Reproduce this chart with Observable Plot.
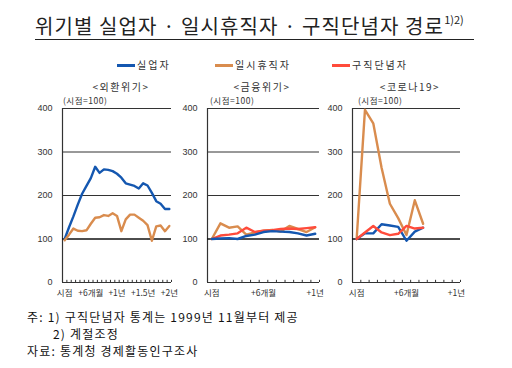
<!DOCTYPE html>
<html><head><meta charset="utf-8">
<script src="https://cdn.jsdelivr.net/npm/d3@7"></script>
<script src="https://cdn.jsdelivr.net/npm/@observablehq/plot@0.6"></script>
<style>
html,body{margin:0;padding:0;background:#fff;}
#wrap{position:relative;width:512px;height:368px;overflow:hidden;font-family:"Noto Sans CJK KR","Noto Sans",sans-serif;color:#222;}
.abs{position:absolute;white-space:nowrap;}
#title{left:35px;top:14px;width:439px;font-size:20px;line-height:24px;border-bottom:1.3px solid #222;padding-bottom:1px;letter-spacing:1.1px;}
#title sup{font-size:11px;vertical-align:top;line-height:12px;position:relative;top:-1px;letter-spacing:0;}
.leg{top:58px;font-size:10px;letter-spacing:2px;color:#333;line-height:14px;}
.leg span.sw{display:inline-block;width:18px;height:3px;vertical-align:middle;margin-right:2px;position:relative;top:-1px;}
.ptitle{top:80px;font-size:10px;letter-spacing:1.5px;color:#333;transform:translateX(-50%);line-height:14px;}
.base{top:95px;font-size:8.5px;letter-spacing:0.5px;color:#333;line-height:11px;}
.plot{position:absolute;top:80px;}
.note{left:27px;font-size:12px;line-height:15px;letter-spacing:1.2px;color:#111;}
</style></head>
<body><div id="wrap"></div>
<script>
// ---- data ----
const seriesNames = ["실업자", "일시휴직자", "구직단념자"];
const seriesColors = ["#1457b0", "#d98c4e", "#ff4b3b"];
const crisisTitles = ["<외환위기>", "<금융위기>", "<코로나19>"];
const baseNote = "(시점=100)";
const yTicks = [0, 100, 200, 300, 400];

// 외환위기 (25 months)
const unemp1 = [100,127,152,179,204,222,240,266,252,260,259,256,250,241,228,225,222,216,228,223,206,187,181,169,169];
const temp1  = [97,110,124,119,118,120,135,149,150,155,153,159,153,118,145,156,156,149,142,132,96,129,131,118,130];
const xLabels1 = ["시점","+6개월","+1년","+1.5년","+2년"];
const xLabelPos1 = [0,6,12,18,24];
const nMonths1 = 25;

// 금융위기 (13 months)
const unemp2 = [100,101,102,100,107,110,116,118,117,116,113,108,112];
const temp2  = [100,136,126,129,110,115,119,121,117,130,123,116,127];
const disc2  = [100,108,110,113,126,116,119,120,123,124,123,125,127];
const xLabels2 = ["시점","+6개월","+1년"];
const xLabelPos2 = [0,6,12];
const nMonths2 = 13;

// 코로나19 (9 months observed, axis of 13)
const unemp3 = [100,113,113,134,131,128,96,117,126];
const temp3  = [100,397,366,264,181,148,109,189,135];
const disc3  = [100,115,130,115,109,112,130,124,126];
const xLabels3 = ["시점","+6개월","+1년"];
const xLabelPos3 = [0,6,12];
const nMonths3 = 13;

const notes = ["주: 1) 구직단념자 통계는 1999년 11월부터 제공", "2) 계절조정", "자료: 통계청 경제활동인구조사"];

// ---- layout ----
const wrap = document.getElementById("wrap");
function addDiv(cls, html, style) {
  const d = document.createElement("div");
  d.className = "abs " + cls;
  d.innerHTML = html;
  Object.assign(d.style, style || {});
  wrap.appendChild(d);
  return d;
}
addDiv("", "위기별 실업자 · 일시휴직자 · 구직단념자 경로<sup>1)2)</sup>").id = "title";
const legX = [117, 215, 332];
seriesNames.forEach((s, k) => {
  addDiv("leg", `<span class="sw" style="background:${seriesColors[k]}"></span>${s}`, {left: legX[k] + "px"});
});

const color = {domain: seriesNames, range: seriesColors};

function panel(left, series, nMonths, labels, labelPos, mr) {
  const data = [];
  series.forEach(([name, vals]) => vals.forEach((v, i) => data.push({i, v, s: name})));
  const edges = d3.range(nMonths + 1).map(k => k - 0.5);
  const labelData = labels.map((t, k) => ({t, x: labelPos[k]}));
  const p = Plot.plot({
    width: 160, height: 225,
    marginLeft: 42, marginRight: mr, marginTop: 28, marginBottom: 23,
    style: {fontFamily: "'Liberation Sans', Arial, sans-serif", background: "transparent", overflow: "visible"},
    x: {domain: [-0.5, nMonths - 0.5], axis: null},
    y: {domain: [0, 400], axis: null},
    color,
    marks: [
      Plot.text(yTicks, {x: -0.5, y: d => d, text: d => String(d), textAnchor: "end", dx: -10, fontSize: 9, fill: "#333"}),
      Plot.tickY(yTicks, {x1: -0.5, x2: -0.5 + nMonths * 0.03, y: d => d, stroke: "#333"}),
      Plot.ruleX(edges, {x: d => d, y1: 0, y2: 5, stroke: "#333"}),
      Plot.ruleY([0], {stroke: "#333", strokeWidth: 1.2}),
      Plot.ruleX([-0.5], {y1: 0, y2: 400, stroke: "#333", strokeWidth: 1.2}),
      Plot.ruleY([100], {stroke: "#000", strokeWidth: 1}),
      Plot.line(data, {x: "i", y: "v", z: "s", stroke: "s", strokeWidth: 2.4}),
      Plot.text(labelData, {x: "x", y: 0, text: "t", dy: 11, fontSize: 8.5, fill: "#333", fontFamily: "'Noto Sans CJK KR', sans-serif"})
    ]
  });
  p.classList.add("plot");
  p.style.left = left + "px";
  wrap.appendChild(p);
}

panel(20, [[seriesNames[0], unemp1], [seriesNames[1], temp1]], nMonths1, xLabels1, xLabelPos1, 9);
panel(165, [[seriesNames[1], temp2], [seriesNames[2], disc2], [seriesNames[0], unemp2]], nMonths2, xLabels2, xLabelPos2, 6);
panel(310, [[seriesNames[1], temp3], [seriesNames[0], unemp3], [seriesNames[2], disc3]], nMonths3, xLabels3, xLabelPos3, 10);

const titleX = [121, 262, 410];
crisisTitles.forEach((t, k) => addDiv("ptitle", t.replace("<", "&lt;").replace(">", "&gt;"), {left: titleX[k] + "px"}));
[63, 210, 358].forEach(x => addDiv("base", baseNote, {left: x + "px"}));

addDiv("note", notes[0], {top: "309px"});
addDiv("note", notes[1], {top: "326px", left: "53px"});
addDiv("note", notes[2], {top: "343px"});
</script>
</body></html>
